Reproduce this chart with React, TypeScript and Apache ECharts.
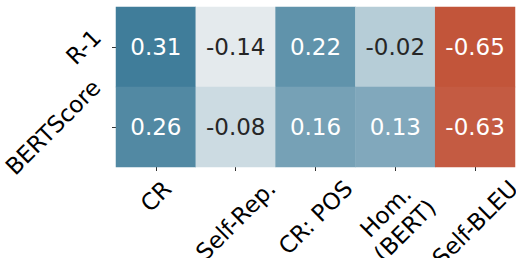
import React, { useEffect, useRef } from 'react';
import * as echarts from 'echarts';

const xLabels = ['CR', 'Self-Rep.', 'CR: POS', 'Hom.\n(BERT)', 'Self-BLEU'];
const yLabels = ['R-1', 'BERTScore'];
const r1Values = [0.31, -0.14, 0.22, -0.02, -0.65];
const bertScoreValues = [0.26, -0.08, 0.16, 0.13, -0.63];
const rowValues = [r1Values, bertScoreValues];

const FONT = 'DejaVu Sans';
const FS = 23;
const LH = 27;

function hexToRgb(h: string) {
  const n = parseInt(h.slice(1), 16);
  return [(n >> 16) & 255, (n >> 8) & 255, n & 255];
}
function mix(a: string, b: string, t: number) {
  const A = hexToRgb(a), B = hexToRgb(b);
  const c = A.map((v, i) => Math.round(v + (B[i] - v) * t));
  return '#' + c.map((v) => v.toString(16).padStart(2, '0')).join('');
}

const RED = '#c2553a';
const RED_GRAY = '#f5efee';
const MID = '#f2f2f2';
const BLUE_GRAY = '#ecf1f3';
const BLUE = '#407d9a';
function paletteStops() {
  const out: string[] = [];
  const N = 10;
  for (let i = 0; i < N; i++) out.push(mix(RED, RED_GRAY, i / N));
  out.push(MID);
  for (let i = 1; i <= N; i++) out.push(mix(BLUE_GRAY, BLUE, i / N));
  return out;
}

export default function App() {
  const ref = useRef<HTMLDivElement>(null);
  useEffect(() => {
    if (!ref.current) return;
    const chart = echarts.init(ref.current, null, { renderer: 'svg' });
    const canvas = document.createElement('canvas');
    const ctx = canvas.getContext('2d')!;
    ctx.font = `${FS}px "DejaVu Sans"`;
    const padFor = (s: string) => {
      const lines = s.split('\n');
      const w = Math.max(...lines.map((l) => ctx.measureText(l).width));
      return Math.round((w + LH * lines.length) / 2);
    };

    // rich styles: x labels shift so rotated bbox is centred on tick, top aligned;
    // y labels shift so rotated bbox is right aligned, centred on tick.
    const xRich: Record<string, any> = {};
    xLabels.forEach((s, i) => {
      const P = padFor(s);
      xRich['a' + i] = { padding: [P, P, 0, 0], lineHeight: LH + P, fontSize: FS, fontFamily: FONT, color: '#000' };
      xRich['b' + i] = { padding: [0, P, 0, 0], lineHeight: LH, fontSize: FS, fontFamily: FONT, color: '#000' };
    });
    const yRich: Record<string, any> = {};
    yLabels.forEach((s, i) => {
      const P = padFor(s);
      yRich['a' + i] = { padding: [0, P, P, 0], lineHeight: LH + P, fontSize: FS, fontFamily: FONT, color: '#000' };
    });

    const all = rowValues.flat();
    const vmin = Math.min(...all);
    const vmax = Math.max(...all);

    const data: any[] = [];
    rowValues.forEach((row, j) => {
      row.forEach((v, i) => {
        const t = (v - vmin) / (vmax - vmin);
        const light = t > 0.3 && t < 0.7;
        data.push({
          value: [i, j, v],
          label: { color: light ? '#262626' : '#ffffff' },
        });
      });
    });

    chart.setOption({
      animation: false,
      grid: { left: 116, right: 1, top: 7, bottom: 91, containLabel: false, outerBoundsMode: 'none' },
      xAxis: {
        type: 'category',
        data: xLabels,
        axisLine: { show: false },
        axisTick: { show: true, alignWithLabel: true, length: 4, lineStyle: { color: '#333', width: 1 } },
        axisLabel: {
          interval: 0,
          rotate: 45,
          margin: 8,
          align: 'center',
          verticalAlign: 'middle',
          fontSize: FS,
          fontFamily: FONT,
          color: '#000',
          hideOverlap: false,
          formatter: (val: string, idx: number) =>
            val
              .split('\n')
              .map((l, k) => `{${k === 0 ? 'a' : 'b'}${idx}|${l}}`)
              .join('\n'),
          rich: xRich,
        },
        splitLine: { show: false },
      },
      yAxis: {
        type: 'category',
        inverse: true,
        data: yLabels,
        axisLine: { show: false },
        axisTick: { show: true, alignWithLabel: true, length: 4, lineStyle: { color: '#333', width: 1 } },
        axisLabel: {
          interval: 0,
          rotate: 45,
          margin: 10,
          align: 'center',
          verticalAlign: 'middle',
          fontSize: FS,
          fontFamily: FONT,
          color: '#000',
          hideOverlap: false,
          formatter: (val: string, idx: number) => `{a${idx}|${val}}`,
          rich: yRich,
        },
        splitLine: { show: false },
      },
      visualMap: {
        type: 'continuous',
        show: false,
        min: vmin,
        max: vmax,
        dimension: 2,
        seriesIndex: 0,
        inRange: { color: paletteStops() },
      },
      series: [
        {
          type: 'heatmap',
          data,
          itemStyle: { borderWidth: 0 },
          emphasis: { disabled: true },
          label: {
            show: true,
            fontSize: FS,
            fontFamily: FONT,
            formatter: (p: any) => p.value[2].toFixed(2),
          },
        },
      ],
    });
    return () => chart.dispose();
  }, []);
  return (
    <div
      ref={ref}
      style={{ position: 'fixed', left: 0, top: 0, width: 516, height: 258, background: '#fff' }}
    />
  );
}
